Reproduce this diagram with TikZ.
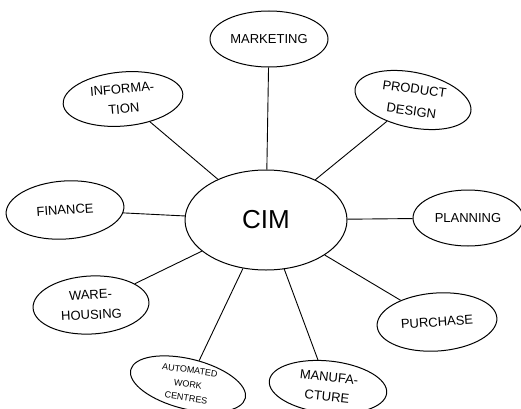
\documentclass[tikz,border=0pt]{standalone}
\usepackage{fontspec}
\setmainfont{Liberation Sans}
\usetikzlibrary{shapes.geometric}
\begin{document}
\begin{tikzpicture}[x=1pt,y=1pt,
  dept/.style={ellipse,draw=black,line width=1pt,inner sep=0pt,align=center,
    font=\fontsize{13}{20}\selectfont},
  hub/.style={ellipse,draw=black,line width=1pt,inner sep=0pt,
    minimum width=162,minimum height=100,font=\fontsize{26}{30}\selectfont},
  link/.style={line width=0.9pt,black}]
\useasboundingbox (0,0) rectangle (521,408);
\fill[white] (0,0) rectangle (521,408);

% central hub
\node[hub] (cim) at (266,188) {CIM};

% surrounding functions
\node[dept,minimum width=118,minimum height=56] (mkt) at (269,369) {MARKETING};
\node[dept,minimum width=120,minimum height=54,rotate=5] (info) at (123,309) {INFORMA-\\TION};
\node[dept,minimum width=118,minimum height=55,rotate=-12] (prod) at (413,308) {};
\node[align=center,inner sep=0pt,rotate=-8,font=\fontsize{13}{22}\selectfont]
  (prodlabel) at (prod.center) {PRODUCT\\DESIGN};
\node[dept,minimum width=118,minimum height=58,rotate=4] (fin) at (65,198) {FINANCE};
\node[dept,minimum width=110,minimum height=56] (plan) at (468,190) {PLANNING};
\node[dept,minimum width=116,minimum height=58,rotate=3] (ware) at (91,103) {WARE-\\HOUSING};
\node[dept,minimum width=120,minimum height=58,rotate=4] (pur) at (437,86) {PURCHASE};
\node[dept,minimum width=118,minimum height=50,rotate=-14] (auto) at (188,24) {};
\node[align=center,inner sep=0pt,rotate=-8,font=\fontsize{9}{14}\selectfont]
  (autolabel) at (auto.center) {AUTOMATED\\WORK\\CENTRES};
\node[dept,minimum width=118,minimum height=52,rotate=-6] (man) at (328,21) {MANUFA-\\CTURE};

% spokes
\draw[link] (cim) -- (mkt);
\draw[link] (cim) -- (info);
\draw[link] (cim) -- (prod);
\draw[link] (cim) -- (fin);
\draw[link] (cim) -- (plan);
\draw[link] (cim) -- (ware);
\draw[link] (cim) -- (pur);
\draw[link] (cim) -- (auto);
\draw[link] (cim) -- (man);
\end{tikzpicture}
\end{document}
